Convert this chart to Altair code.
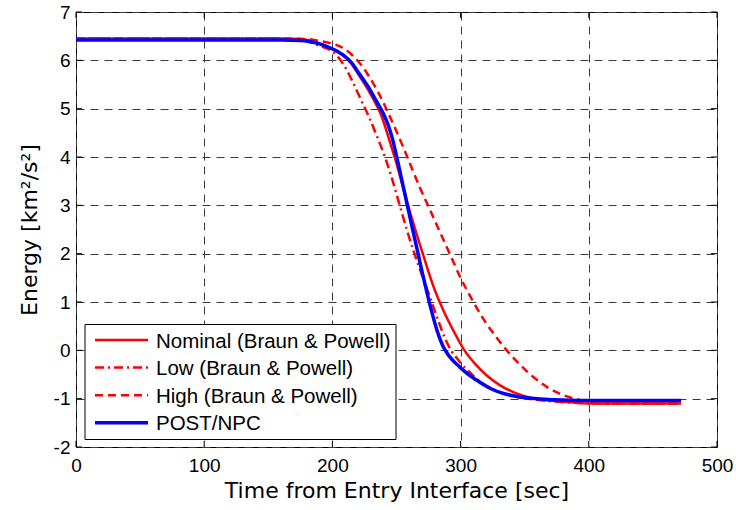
import altair as alt
import pandas as pd

# Specific energy [km^2/s^2] against time from entry interface [s]
nominal_t = [0, 160, 175, 182, 190, 199, 208, 214.5, 220.5, 226.5, 232.5, 237.5, 241.5, 245,
             248.5, 259, 270.5, 279.8, 286.5, 295.5, 303, 311, 320, 330.5, 343.5, 356.4,
             370, 388, 400, 472]
nominal_e = [6.45, 6.45, 6.44, 6.41, 6.35, 6.25, 6.11, 5.94, 5.7, 5.45, 5.17, 4.9, 4.6, 4.3,
             4.0, 3.0, 2.0, 1.25, 0.83, 0.35, 0.0, -0.27, -0.51, -0.72, -0.89, -0.99,
             -1.04, -1.08, -1.1, -1.1]

low_t = [0, 155, 172, 182, 190, 199, 204, 209, 215, 222, 229, 235.5, 241, 246.5, 252.5, 258,
         264, 269, 274.5, 278.5, 282.5, 286, 289.5, 293, 297, 301, 305, 310, 318, 325, 332,
         340, 350, 365, 385, 400, 472]
low_e = [6.45, 6.45, 6.43, 6.38, 6.3, 6.2, 6.08, 5.9, 5.6, 5.2, 4.8, 4.38, 4.0, 3.55, 3.0, 2.5,
         2.0, 1.62, 1.22, 0.92, 0.62, 0.37, 0.15, -0.02, -0.16, -0.29, -0.4, -0.53, -0.7,
         -0.8, -0.88, -0.94, -0.99, -1.04, -1.08, -1.1, -1.1]

high_t = [0, 160, 180, 190, 199, 208, 215, 222, 229, 235.5, 242, 248.5, 255, 261.5, 268,
          274.5, 283, 291.5, 300, 310, 318.5, 327, 336, 343.5, 351.5, 359, 367.5, 376, 385,
          394, 403, 412, 472]
high_e = [6.45, 6.45, 6.44, 6.4, 6.35, 6.26, 6.12, 5.92, 5.65, 5.35, 5.0, 4.62, 4.22, 3.8,
          3.38, 3.0, 2.5, 2.0, 1.5, 1.0, 0.62, 0.3, 0.0, -0.22, -0.43, -0.6, -0.76, -0.88,
          -0.97, -1.03, -1.07, -1.1, -1.1]

post_t = [0, 160, 175, 182, 190, 199, 208, 215, 221, 228, 234, 239.5, 243.5, 247, 250, 253.5,
          257.5, 261.5, 266, 270, 274, 278, 282, 286, 290, 294, 298, 302, 307, 312, 318, 325,
          332, 339, 347, 355, 365, 380, 395, 472]
post_e = [6.42, 6.42, 6.41, 6.39, 6.34, 6.25, 6.12, 5.95, 5.72, 5.45, 5.17, 4.91, 4.66, 4.36,
          4.02, 3.6, 3.12, 2.63, 2.1, 1.62, 1.17, 0.75, 0.38, 0.1, -0.08, -0.21, -0.31, -0.41,
          -0.52, -0.61, -0.71, -0.81, -0.88, -0.93, -0.97, -0.99, -1.01, -1.03, -1.04, -1.04]

x_ticks = [0, 100, 200, 300, 400, 500]
y_ticks = [-2, -1, 0, 1, 2, 3, 4, 5, 6, 7]

series_names = ["Nominal (Braun & Powell)", "Low (Braun & Powell)",
                "High (Braun & Powell)", "POST/NPC"]
series_data = [(nominal_t, nominal_e), (low_t, low_e), (high_t, high_e), (post_t, post_e)]
series_colors = ["#FF0000", "#FF0000", "#FF0000", "#0000FF"]
series_dash = [None, [9, 4, 2, 4], [8, 5], None]
series_width = [2.5, 2.5, 2.5, 3.5]

W, H = 641, 435
TICK_LEN = 6
LABEL_FONT = "Liberation Sans"
TITLE_FONT = "DejaVu Sans"

x_scale = alt.Scale(domain=[0, 500], nice=False, zero=False)
y_scale = alt.Scale(domain=[-2, 7], nice=False, zero=False)

grid_style = dict(grid=True, gridColor="#3a3a3a", gridDash=[8, 6], gridWidth=1, gridOpacity=1,
                  domain=False, ticks=False, tickSize=0, labelFlush=False, labelOverlap=False,
                  labelFont=LABEL_FONT, labelFontSize=19, labelColor="black",
                  titleFont=TITLE_FONT, titleFontSize=22, titleFontWeight="normal",
                  titleColor="black")

x_axis = alt.Axis(values=x_ticks, title="Time from Entry Interface [sec]",
                  labelBaseline="alphabetic", labelPadding=24,
                  titleX=W / 2, titleY=50, titleBaseline="alphabetic", titleAlign="center",
                  **grid_style)
y_axis = alt.Axis(values=y_ticks, title="Energy [km²/s²]", labelExpr="'' + datum.value",
                  labelPadding=6, labelBaseline="middle",
                  titleAngle=270, titleX=-39.5, titleY=H / 2, titleBaseline="alphabetic",
                  titleAlign="center", **grid_style)


def enc_x(field):
    return alt.X(field, type="quantitative", scale=x_scale, axis=x_axis)


def enc_y(field):
    return alt.Y(field, type="quantitative", scale=y_scale, axis=y_axis)


layers = []

# trajectory curves
for i, (t, e) in enumerate(series_data):
    df = pd.DataFrame({"t": t, "e": e})
    kw = dict(color=series_colors[i], strokeWidth=series_width[i], interpolate="monotone",
              clip=True)
    if series_dash[i] is not None:
        kw["strokeDash"] = series_dash[i]
    layers.append(alt.Chart(df).mark_line(**kw).encode(x=enc_x("t"), y=enc_y("e")))

# inward tick marks on all four sides of the box
xt = pd.DataFrame({"t": x_ticks})
yt = pd.DataFrame({"e": y_ticks})
layers.append(alt.Chart(xt).mark_rule(color="black", strokeWidth=1).encode(
    x=enc_x("t"), y=alt.value(H), y2=alt.value(H - TICK_LEN)))
layers.append(alt.Chart(xt).mark_rule(color="black", strokeWidth=1).encode(
    x=enc_x("t"), y=alt.value(0), y2=alt.value(TICK_LEN)))
layers.append(alt.Chart(yt).mark_rule(color="black", strokeWidth=1).encode(
    y=enc_y("e"), x=alt.value(0), x2=alt.value(TICK_LEN)))
layers.append(alt.Chart(yt).mark_rule(color="black", strokeWidth=1).encode(
    y=enc_y("e"), x=alt.value(W), x2=alt.value(W - TICK_LEN)))

# legend box
one = pd.DataFrame({"k": [0]})
LEG_X0, LEG_X1, LEG_Y0, LEG_Y1 = 9, 320, 312.5, 427.5
layers.append(alt.Chart(one).mark_rect(fill="white", stroke="black", strokeWidth=1).encode(
    x=alt.value(LEG_X0), x2=alt.value(LEG_X1), y=alt.value(LEG_Y0), y2=alt.value(LEG_Y1)))

ROW0, ROW_STEP = 328, 27.6
for i, name in enumerate(series_names):
    ry = ROW0 + i * ROW_STEP
    kw = dict(color=series_colors[i], strokeWidth=series_width[i])
    if series_dash[i] is not None:
        kw["strokeDash"] = series_dash[i]
    layers.append(alt.Chart(one).mark_rule(**kw).encode(
        x=alt.value(19), x2=alt.value(72), y=alt.value(ry)))
    layers.append(alt.Chart(one).mark_text(
        text=name, font=LABEL_FONT, fontSize=20.5, color="black", align="left",
        baseline="alphabetic").encode(x=alt.value(80), y=alt.value(ry + 7.5)))

chart = alt.layer(*layers).properties(
    width=W, height=H,
    autosize=alt.AutoSizeParams(type="none"),
    padding={"left": 76, "top": 12, "right": 19, "bottom": 63},
    background="white",
).configure_view(stroke="black", strokeWidth=1)

chart.save("out.html", embed_options={"renderer": "svg", "actions": False})
